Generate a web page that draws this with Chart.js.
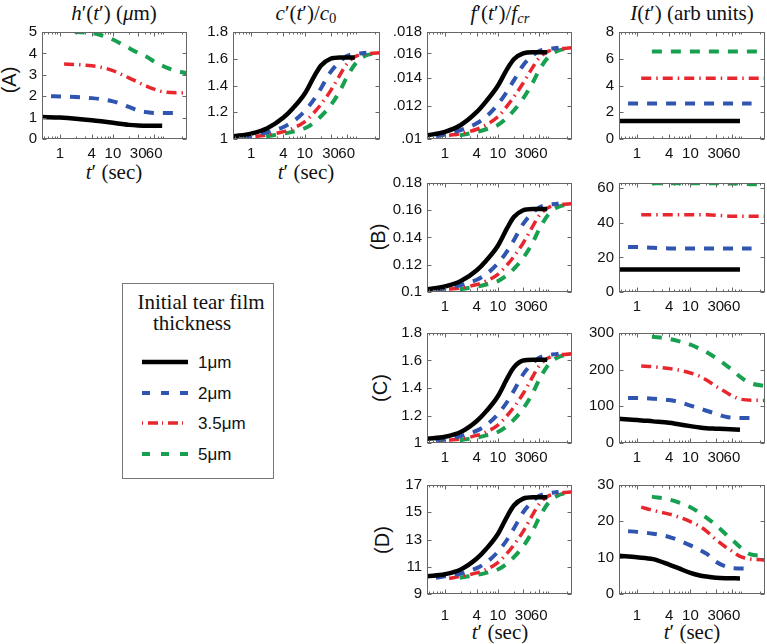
<!DOCTYPE html>
<html>
<head>
<meta charset="utf-8">
<script src="https://cdn.jsdelivr.net/npm/chart.js@4.4.0/dist/chart.umd.min.js"></script>
<style>
  body { margin: 0; background: #fff; width: 767px; height: 644px; overflow: hidden; position: relative; }
  canvas { position: absolute; }
  .tt { position: absolute; font-family: "Liberation Serif", "DejaVu Serif", serif; font-size: 21px; color: #111;
        white-space: nowrap; transform: translate(-50%, -50%); line-height: 1; }
  .tt sub { font-size: 70%; line-height: 0; vertical-align: -0.25em; }
  .rl { position: absolute; font-family: "Liberation Sans", Arial, sans-serif; font-size: 20px; color: #111;
        white-space: nowrap; line-height: 1; transform: translate(-50%, -50%) rotate(-90deg); }
  svg { position: absolute; }
</style>
</head>
<body>

<div class="tt" style="left:114px;top:13px"><i>h</i>′(<i>t</i>′) (<i>μ</i>m)</div>
<div class="tt" style="left:306px;top:13px"><i>c</i>′(<i>t</i>′)/<i>c</i><sub>0</sub></div>
<div class="tt" style="left:500px;top:13px"><i>f</i>′(<i>t</i>′)/<i>f<sub>cr</sub></i></div>
<div class="tt" style="left:692px;top:13px"><i>I</i>(<i>t</i>′) (arb units)</div>

<div class="tt" style="left:114px;top:172px"><i>t</i>′ (sec)</div>
<div class="tt" style="left:306px;top:172px"><i>t</i>′ (sec)</div>
<div class="tt" style="left:500px;top:632px"><i>t</i>′ (sec)</div>
<div class="tt" style="left:692px;top:632px"><i>t</i>′ (sec)</div>

<div class="rl" style="left:9px;top:80px">(A)</div>
<div class="rl" style="left:378px;top:237px">(B)</div>
<div class="rl" style="left:380px;top:388px">(C)</div>
<div class="rl" style="left:382px;top:540px">(D)</div>

<svg style="left:122px;top:283px" width="152" height="196">
  <rect x="0.5" y="0.5" width="151" height="195" fill="#fff" stroke="#777" stroke-width="1"/>
  <text x="79" y="26" text-anchor="middle" font-family="Liberation Serif" font-size="21" fill="#111">Initial tear film</text>
  <text x="70" y="47" text-anchor="middle" font-family="Liberation Serif" font-size="21" fill="#111">thickness</text>
  <line x1="20" y1="79" x2="66" y2="79" stroke="#000" stroke-width="4.5"/>
  <line x1="20" y1="110" x2="66" y2="110" stroke="#2f55b0" stroke-width="4" stroke-dasharray="8 11"/>
  <line x1="20" y1="140" x2="66" y2="140" stroke="#e8262d" stroke-width="3.5" stroke-dasharray="1 5 10 4"/>
  <line x1="20" y1="171" x2="66" y2="171" stroke="#16a050" stroke-width="4" stroke-dasharray="8 11"/>
  <text x="76" y="85" font-family="Liberation Sans" font-size="17" fill="#111">1μm</text>
  <text x="76" y="116" font-family="Liberation Sans" font-size="17" fill="#111">2μm</text>
  <text x="76" y="146" font-family="Liberation Sans" font-size="17" fill="#111">3.5μm</text>
  <text x="76" y="177" font-family="Liberation Sans" font-size="17" fill="#111">5μm</text>
</svg>

<script>
// time nodes (sec) for each initial thickness
const tBlack = [0.46, 1, 2, 4, 6, 10, 15, 20, 30, 45, 85];
const tBlue  = [0.68, 1, 2, 4, 6, 10, 15, 20, 30, 45, 60, 140];
const tRed   = [1.2, 2, 4, 6, 10, 15, 20, 30, 45, 60, 90, 250];
const tGreen = [1.9, 4, 6, 10, 15, 20, 30, 45, 60, 90, 130, 250];

const xTicks = [1, 4, 10, 30, 60];
const xMinor = [0.5, 0.6, 0.7, 0.8, 0.9, 2, 3, 5, 6, 7, 8, 9, 20, 40, 50, 70, 80, 90, 200];

// values, each panel: [1um, 2um, 3.5um, 5um]
const hA = [
  [1.03, 1.00, 0.95, 0.88, 0.83, 0.76, 0.70, 0.66, 0.63, 0.62, 0.62],
  [2.00, 1.99, 1.96, 1.91, 1.86, 1.76, 1.62, 1.50, 1.33, 1.25, 1.22, 1.21],
  [3.50, 3.48, 3.42, 3.35, 3.20, 3.00, 2.86, 2.65, 2.45, 2.33, 2.20, 2.15],
  [5.00, 4.95, 4.85, 4.65, 4.42, 4.25, 4.02, 3.82, 3.62, 3.40, 3.24, 3.07]
];
const cA = [
  [1.02, 1.04, 1.08, 1.16, 1.23, 1.34, 1.47, 1.55, 1.60, 1.61, 1.61],
  [1.015, 1.025, 1.05, 1.09, 1.13, 1.21, 1.30, 1.38, 1.50, 1.58, 1.62, 1.645],
  [1.02, 1.03, 1.055, 1.08, 1.13, 1.20, 1.26, 1.36, 1.48, 1.56, 1.62, 1.645],
  [1.02, 1.04, 1.055, 1.08, 1.125, 1.17, 1.25, 1.36, 1.46, 1.57, 1.62, 1.645]
];
const fA = [
  [0.0102, 0.0104, 0.0108, 0.0116, 0.0123, 0.0134, 0.0147, 0.0155, 0.0160, 0.0161, 0.0161],
  [0.01015, 0.01025, 0.0105, 0.0109, 0.0113, 0.0121, 0.0130, 0.0138, 0.0150, 0.0158, 0.0162, 0.0165],
  [0.0102, 0.0103, 0.01055, 0.0108, 0.0113, 0.0120, 0.0126, 0.0136, 0.0148, 0.0156, 0.0162, 0.0165],
  [0.0102, 0.0104, 0.01055, 0.0108, 0.01125, 0.0117, 0.0125, 0.0136, 0.0146, 0.0157, 0.0162, 0.0165]
];
const iA = [
  [1.35, 1.35, 1.35, 1.35, 1.35, 1.35, 1.35, 1.35, 1.35, 1.35, 1.35],
  [2.65, 2.65, 2.65, 2.65, 2.65, 2.65, 2.65, 2.65, 2.65, 2.65, 2.65, 2.65],
  [4.55, 4.55, 4.55, 4.55, 4.55, 4.55, 4.55, 4.55, 4.55, 4.55, 4.55, 4.55],
  [6.55, 6.55, 6.55, 6.55, 6.55, 6.55, 6.55, 6.55, 6.55, 6.55, 6.55, 6.55]
];
const fB = [
  [0.102, 0.104, 0.108, 0.116, 0.123, 0.134, 0.147, 0.155, 0.160, 0.161, 0.161],
  [0.1015, 0.1025, 0.105, 0.109, 0.113, 0.121, 0.130, 0.138, 0.150, 0.158, 0.162, 0.165],
  [0.102, 0.103, 0.1055, 0.108, 0.113, 0.120, 0.126, 0.136, 0.148, 0.156, 0.162, 0.165],
  [0.102, 0.104, 0.1055, 0.108, 0.1125, 0.117, 0.125, 0.136, 0.146, 0.157, 0.162, 0.165]
];
const iB = [
  [13, 13, 13, 13, 13, 13, 13, 13, 13, 13, 13],
  [26.0, 26.0, 25.6, 25.2, 25.2, 25.2, 25.2, 25.2, 25.2, 25.2, 25.2, 25.2],
  [44.6, 44.6, 44.6, 44.6, 44.6, 44.6, 44.6, 44.4, 44.0, 43.8, 43.8, 43.8],
  [62.8, 62.8, 62.8, 62.8, 62.8, 62.8, 62.8, 62.8, 62.7, 62.6, 62.3, 62.3]
];
const fC = [
  [1.03, 1.045, 1.08, 1.16, 1.23, 1.34, 1.47, 1.55, 1.60, 1.605, 1.605],
  [1.015, 1.025, 1.05, 1.09, 1.13, 1.21, 1.30, 1.38, 1.50, 1.58, 1.62, 1.65],
  [1.02, 1.03, 1.055, 1.08, 1.13, 1.20, 1.26, 1.36, 1.48, 1.56, 1.62, 1.65],
  [1.02, 1.04, 1.055, 1.08, 1.125, 1.17, 1.25, 1.36, 1.46, 1.57, 1.62, 1.65]
];
const iC = [
  [66, 63, 59, 55, 51, 46, 42, 40, 39, 38, 36],
  [123, 123, 121, 117, 112, 102, 94, 88, 80, 72, 69, 68],
  [210, 208, 203, 199, 191, 182, 172, 155, 140, 129, 119, 116],
  [290, 284, 278, 268, 257, 248, 232, 214, 200, 178, 164, 155]
];
const fD = [
  [10.3, 10.45, 10.8, 11.6, 12.3, 13.4, 14.7, 15.5, 16.0, 16.1, 16.1],
  [10.2, 10.3, 10.5, 10.9, 11.3, 12.1, 13.0, 13.8, 15.0, 15.8, 16.2, 16.5],
  [10.15, 10.3, 10.55, 10.8, 11.3, 12.0, 12.6, 13.6, 14.8, 15.6, 16.2, 16.5],
  [10.2, 10.4, 10.55, 10.8, 11.25, 11.7, 12.5, 13.6, 14.6, 15.7, 16.2, 16.5]
];
const iD = [
  [10.5, 10.1, 9.6, 8.1, 7.1, 5.8, 5.1, 4.8, 4.5, 4.35, 4.3],
  [17.3, 17.1, 16.6, 15.7, 14.8, 13.4, 12.1, 11.1, 8.9, 7.6, 7.1, 7.0],
  [23.9, 23.0, 22.0, 21.2, 19.9, 18.6, 17.3, 15.0, 13.0, 11.8, 10.2, 9.3],
  [26.8, 26.0, 25.2, 23.9, 22.3, 21.0, 19.0, 16.6, 15.0, 12.6, 11.0, 10.5]
];

const times = [tBlack, tBlue, tRed, tGreen];
const styles = [
  { color: '#000000', width: 4.5, dash: [] },
  { color: '#2f55b0', width: 4, dash: [10, 9] },
  { color: '#e8262d', width: 3.5, dash: [10, 5, 1.5, 5] },
  { color: '#16a050', width: 4, dash: [10, 9] }
];

const YW = 44, PT = 16, PR = 3;
const noLead = v => String(v).replace(/^0\./, '.');
const panels = [
  { vals: hA, left: 42,  top: 32,  w: 145, h: 107, min: 0, max: 5, ticks: [0, 1, 2, 3, 4, 5], pad: 6 },
  { vals: cA, left: 233, top: 32,  w: 147, h: 107, min: 1, max: 1.8, ticks: [1, 1.2, 1.4, 1.6, 1.8], pad: 6 },
  { vals: fA, left: 427, top: 32,  w: 145, h: 107, min: 0.01, max: 0.018, ticks: [0.01, 0.012, 0.014, 0.016, 0.018], pad: 6, log: true, fmt: noLead },
  { vals: iA, left: 619, top: 32,  w: 146, h: 107, min: 0, max: 8, ticks: [0, 2, 4, 6, 8], pad: 6 },
  { vals: fB, left: 427, top: 183, w: 145, h: 109, min: 0.1, max: 0.18, ticks: [0.1, 0.12, 0.14, 0.16, 0.18], pad: 6 },
  { vals: iB, left: 619, top: 183, w: 146, h: 109, min: 0, max: 63, ticks: [0, 20, 40, 60], pad: 6 },
  { vals: fC, left: 427, top: 333, w: 145, h: 110, min: 1, max: 1.8, ticks: [1, 1.2, 1.4, 1.6, 1.8], pad: 6 },
  { vals: iC, left: 619, top: 333, w: 146, h: 110, min: 0, max: 300, ticks: [0, 100, 200, 300], pad: 6 },
  { vals: fD, left: 427, top: 485, w: 145, h: 109, min: 9, max: 17, ticks: [9, 11, 13, 15, 17], pad: 13 },
  { vals: iD, left: 619, top: 485, w: 146, h: 109, min: 0, max: 30, ticks: [0, 10, 20, 30], pad: 13 }
];

// MATLAB style box with inward ticks
const boxTicks = {
  id: 'boxTicks',
  afterDatasetsDraw(chart) {
    const { ctx, chartArea: a, scales: { x, y } } = chart;
    const L = Math.round(a.left) + 0.5, R = Math.round(a.right) - 0.5;
    const T = Math.round(a.top) + 0.5, B = Math.round(a.bottom) - 0.5;
    ctx.save();
    ctx.strokeStyle = '#666';
    ctx.lineWidth = 1;
    ctx.strokeRect(L, T, R - L, B - T);
    ctx.beginPath();
    const xt = (v, len) => {
      const px = Math.round(x.getPixelForValue(v)) + 0.5;
      ctx.moveTo(px, B); ctx.lineTo(px, B - len);
      ctx.moveTo(px, T); ctx.lineTo(px, T + len);
    };
    xTicks.forEach(v => xt(v, 4));
    xMinor.forEach(v => xt(v, 2));
    y.ticks.forEach(t => {
      const py = Math.round(y.getPixelForValue(t.value)) + 0.5;
      ctx.moveTo(L, py); ctx.lineTo(L + 4, py);
      ctx.moveTo(R, py); ctx.lineTo(R - 4, py);
    });
    ctx.stroke();
    ctx.restore();
  }
};

const tickFont = { family: '"Liberation Sans", Arial, sans-serif', size: 15 };

panels.forEach(p => {
  const cv = document.createElement('canvas');
  const W = YW + p.w + PR, H = PT + p.h + 40;
  cv.width = W; cv.height = H;
  cv.style.left = (p.left - YW) + 'px';
  cv.style.top = (p.top - PT) + 'px';
  document.body.appendChild(cv);

  new Chart(cv, {
    type: 'line',
    data: {
      datasets: p.vals.map((v, i) => ({
        data: times[i].slice(0, v.length).map((t, k) => ({ x: t, y: v[k] })),
        borderColor: styles[i].color,
        borderWidth: styles[i].width,
        borderDash: styles[i].dash,
        borderCapStyle: 'butt',
        pointRadius: 0,
        fill: false,
        clip: 0,
        cubicInterpolationMode: 'monotone'
      }))
    },
    options: {
      responsive: false,
      animation: false,
      events: [],
      layout: { padding: { left: 0, top: PT, right: PR, bottom: 0 } },
      plugins: { legend: { display: false }, tooltip: { enabled: false } },
      scales: {
        x: {
          type: 'logarithmic',
          min: 0.46,
          max: 250,
          afterBuildTicks: s => { s.ticks = xTicks.map(v => ({ value: v })); },
          afterFit: s => { s.height = 40; },
          grid: { display: false, drawTicks: false },
          border: { display: false },
          ticks: {
            autoSkip: false, maxRotation: 0, minRotation: 0,
            padding: p.pad, color: '#111', font: tickFont,
            callback: v => String(v)
          }
        },
        y: {
          type: p.log ? 'logarithmic' : 'linear',
          min: p.min,
          max: p.max,
          afterBuildTicks: s => { s.ticks = p.ticks.map(v => ({ value: v })); },
          afterFit: s => { s.width = YW; },
          grid: { display: false, drawTicks: false },
          border: { display: false },
          ticks: {
            autoSkip: false, padding: 5, color: '#111', font: tickFont,
            callback: p.fmt || (v => String(v))
          }
        }
      }
    },
    plugins: [boxTicks]
  });
});
</script>
</body>
</html>
